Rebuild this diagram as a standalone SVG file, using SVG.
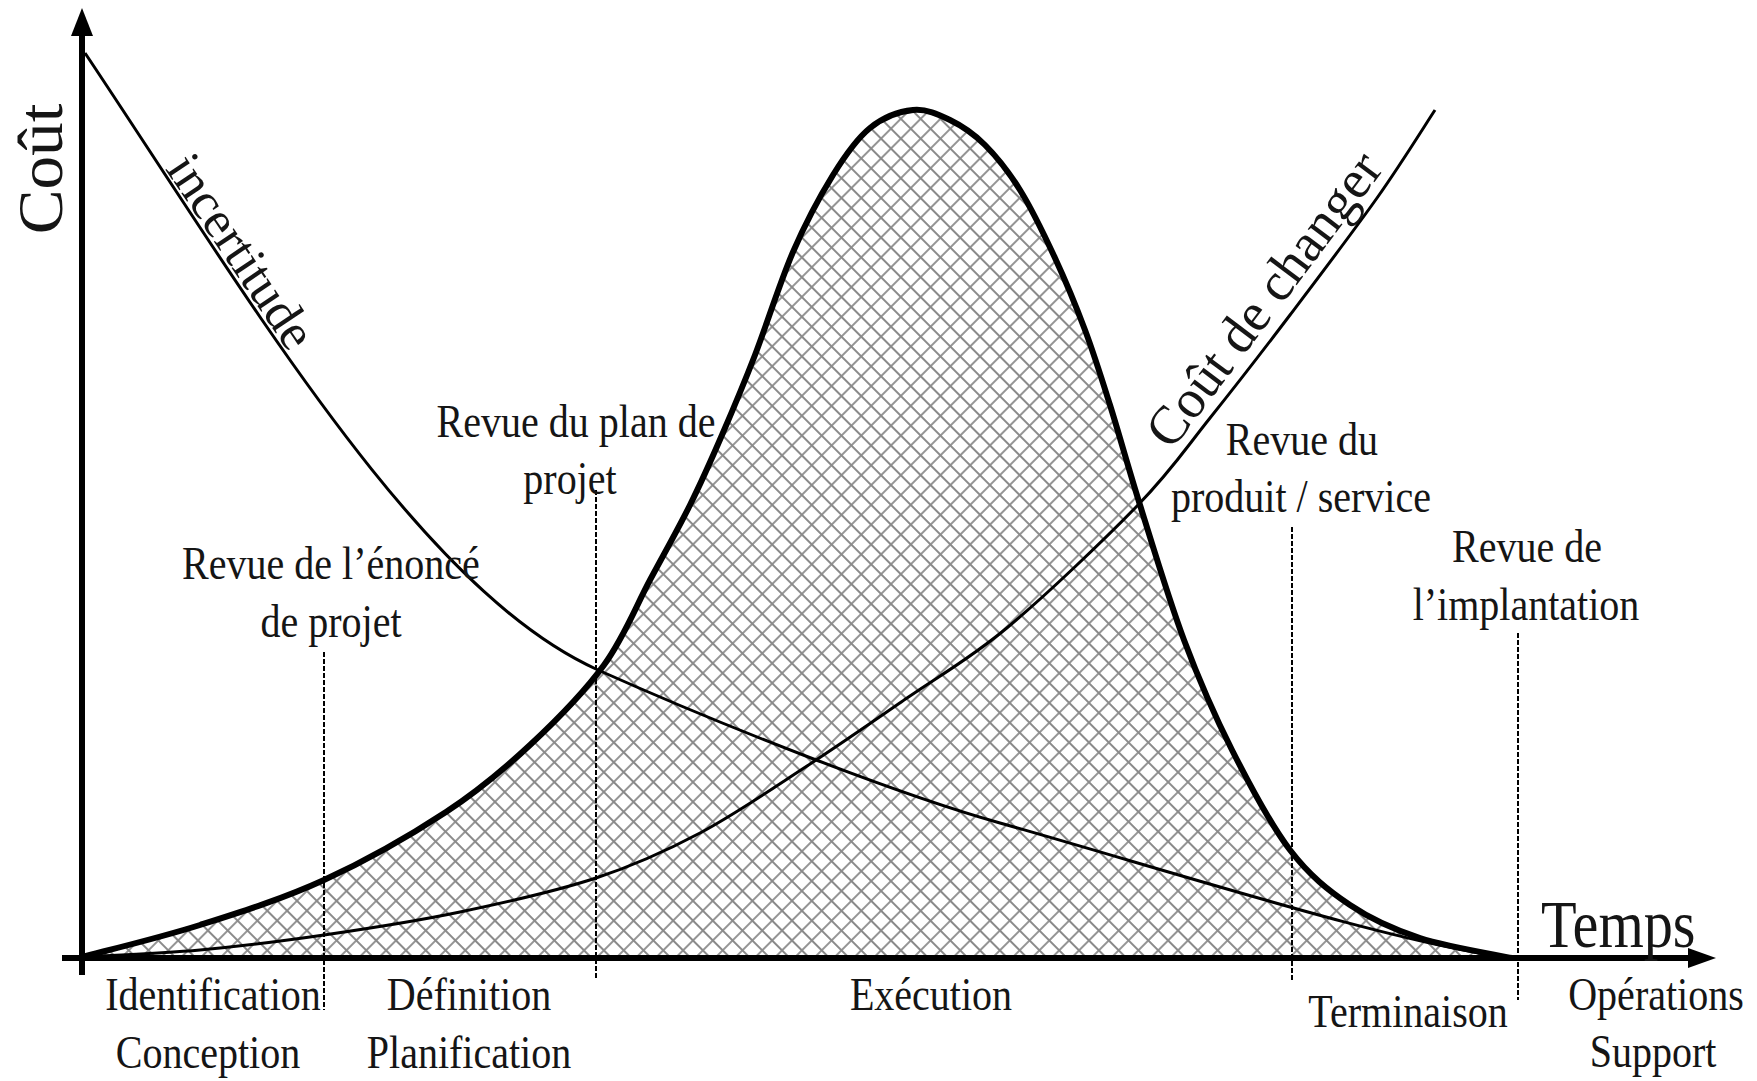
<svg xmlns="http://www.w3.org/2000/svg" width="1757" height="1081" viewBox="0 0 1757 1081">
<defs>
<pattern id="hatch" patternUnits="userSpaceOnUse" width="14" height="14" patternTransform="rotate(45)">
<path d="M0,7 H14 M7,0 V14" stroke="#8a8a8a" stroke-width="1.8"/>
</pattern>
<path id="bellPath" d="M82,957 C101.7,951.7 159.7,937.8 200,925 C240.3,912.2 283,898.8 324,880 C365,861.2 411.7,834.5 446,812 C480.3,789.5 503.7,769.5 530,745 C556.3,720.5 584,692.5 604,665 C624,637.5 635.7,606.7 650,580 C664.3,553.3 678,529.2 690,505 C702,480.8 711.2,460 722,435 C732.8,410 743.2,385.5 755,355 C766.8,324.5 780,282 793,252 C806,222 820.2,195.7 833,175 C845.8,154.3 856.7,138.8 870,128 C883.3,117.2 899.7,111.3 913,110 C926.3,108.7 938,114.2 950,120 C962,125.8 973.3,133.3 985,145 C996.7,156.7 1008.3,171.2 1020,190 C1031.7,208.8 1044.2,234.7 1055,258 C1065.8,281.3 1075.8,305.5 1085,330 C1094.2,354.5 1100.8,375.8 1110,405 C1119.2,434.2 1127.7,465.8 1140,505 C1152.3,544.2 1168.7,599.2 1184,640 C1199.3,680.8 1214.3,715 1232,750 C1249.7,785 1270.3,824.2 1290,850 C1309.7,875.8 1328.3,890.3 1350,905 C1371.7,919.7 1393,929.2 1420,938 C1447,946.8 1496.7,954.7 1512,958"/>
</defs>
<style>
text { font-family: "Liberation Serif", "Times New Roman", serif; fill: #151515; }
.lbl { font-size: 46px; text-anchor: middle; }
.thin { fill: none; stroke: #000; stroke-width: 3; }
.thick { fill: none; stroke: #000; stroke-width: 6; stroke-linejoin: round; }
.dash { stroke: #000; stroke-width: 2; stroke-dasharray: 5 2; }
.axis { stroke: #000; stroke-width: 6; }
</style>
<rect width="1757" height="1081" fill="#fff"/>

<g id="hatch-area">
<use href="#bellPath" fill="url(#hatch)" stroke="none"/>
</g>

<g id="connectors">
<g id="review-lines">
<line class="dash" x1="324" y1="652" x2="324" y2="1010"/>
<line class="dash" x1="596" y1="490" x2="596" y2="980"/>
<line class="dash" x1="1292" y1="527" x2="1292" y2="980"/>
<line class="dash" x1="1518" y1="633" x2="1518" y2="1000"/>
</g>
<path id="incertitude-curve" class="thin" d="M85,53 C250,300 420,590 598,670 C728,728 900,795 1000,823 C1170,871 1400,945 1512,958"/>
<path id="cout-changer-curve" class="thin" d="M82,957 C101.7,955.8 159.7,953.7 200,950 C240.3,946.3 280.7,941.3 324,935 C367.3,928.7 414.7,921.5 460,912 C505.3,902.5 556,891.2 596,878 C636,864.8 664.8,851.7 700,833 C735.2,814.3 772.5,788.5 807,766 C841.5,743.5 873.5,721.2 907,698 C940.5,674.8 969.5,659.2 1008,627 C1046.5,594.8 1104.3,539.8 1138,505 C1171.7,470.2 1184.7,449.7 1210,418 C1235.3,386.3 1262.2,351.7 1290,315 C1317.8,278.3 1352.8,232.2 1377,198 C1401.2,163.8 1425.3,124.7 1435,110"/>
<use id="effort-curve" href="#bellPath" class="thick"/>
<g id="axes">
<line class="axis" x1="82" y1="975" x2="82" y2="30"/>
<polygon points="82,8 71,36 93,36" fill="#000"/>
<line class="axis" x1="62" y1="958" x2="1694" y2="958"/>
<polygon points="1716,958 1688,948 1688,968" fill="#000"/>
</g>
</g>

<g id="axis-labels">
<text transform="translate(62,169) rotate(-90) scale(1.05,1)" text-anchor="middle" font-size="64">Coût</text>
<text transform="translate(1541,947) scale(0.87,1)" font-size="67">Temps</text>
</g>

<g id="curve-labels">
<text transform="translate(227,261) rotate(56)" text-anchor="middle" font-size="52">incertitude</text>
<text transform="translate(1278,310) rotate(-53)" text-anchor="middle" font-size="54">Coût de changer</text>
</g>

<g id="review-labels">
<g id="review-enonce"><text class="lbl" transform="translate(331,579) scale(0.87,1)">Revue de l’énoncé</text><text class="lbl" transform="translate(331,637) scale(0.87,1)">de projet</text></g>
<g id="review-plan"><text class="lbl" transform="translate(576,437) scale(0.87,1)">Revue du plan de</text><text class="lbl" transform="translate(570,494) scale(0.87,1)">projet</text></g>
<g id="review-produit"><text class="lbl" transform="translate(1302,455) scale(0.87,1)">Revue du</text><text class="lbl" transform="translate(1301,512) scale(0.87,1)">produit / service</text></g>
<g id="review-implantation"><text class="lbl" transform="translate(1527,562) scale(0.87,1)">Revue de</text><text class="lbl" transform="translate(1526,620) scale(0.87,1)">l’implantation</text></g>
</g>

<g id="phase-labels">
<g id="phase-identification"><text class="lbl" transform="translate(213,1010) scale(0.87,1)">Identification</text><text class="lbl" transform="translate(208,1068) scale(0.87,1)">Conception</text></g>
<g id="phase-definition"><text class="lbl" transform="translate(469,1010) scale(0.87,1)">Définition</text><text class="lbl" transform="translate(469,1068) scale(0.87,1)">Planification</text></g>
<g id="phase-execution"><text class="lbl" transform="translate(931,1010) scale(0.87,1)">Exécution</text></g>
<g id="phase-terminaison"><text class="lbl" transform="translate(1408,1027) scale(0.87,1)">Terminaison</text></g>
<g id="phase-operations"><text class="lbl" transform="translate(1656,1010) scale(0.87,1)">Opérations</text><text class="lbl" transform="translate(1653,1067) scale(0.87,1)">Support</text></g>
</g>
</svg>
